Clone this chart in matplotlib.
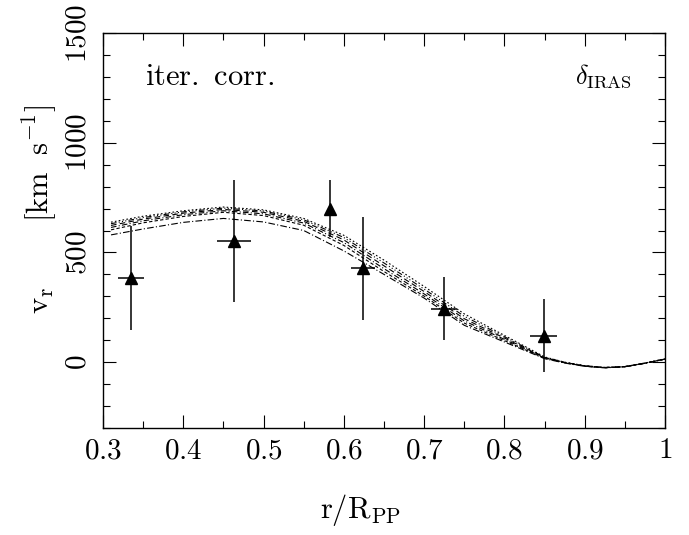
import matplotlib

matplotlib.use("Agg")
import matplotlib.pyplot as plt
from matplotlib.ticker import FuncFormatter, MultipleLocator

plt.rcParams["mathtext.fontset"] = "cm"
plt.rcParams["font.family"] = "serif"

# measured points (triangles)
obs_r = [0.335, 0.463, 0.583, 0.624, 0.725, 0.849]
obs_v = [383, 552, 700, 427, 244, 121]
obs_verr = [236, 278, 130, 233, 143, 165]
obs_rerr = [0.016, 0.021, 0.0, 0.015, 0.016, 0.017]

# model curves
model_r = [0.31, 0.35, 0.40, 0.45, 0.50, 0.55, 0.60, 0.65, 0.70, 0.75, 0.80,
           0.85, 0.875, 0.90, 0.925, 0.95, 0.975, 1.00]
model_v1 = [638, 665, 690, 707, 694, 655, 578, 465, 345, 220, 122, 24, 0, -16, -24, -20, -4, 15]
model_v2 = [631, 659, 685, 702, 689, 649, 568, 452, 333, 209, 116, 22, -1, -17, -24, -20, -4, 15]
model_v3 = [623, 652, 679, 696, 683, 642, 557, 439, 322, 198, 110, 21, -1, -17, -25, -20, -5, 14]
model_v4 = [614, 644, 672, 690, 676, 634, 545, 426, 311, 188, 104, 19, -2, -18, -25, -21, -5, 14]
model_v5 = [603, 635, 664, 683, 668, 624, 532, 413, 301, 178, 98, 18, -3, -18, -25, -21, -5, 14]
model_v6 = [580, 607, 637, 655, 639, 600, 507, 400, 292, 168, 92, 16, -4, -19, -26, -21, -5, 14]

x_ticks = [0.3, 0.4, 0.5, 0.6, 0.7, 0.8, 0.9, 1.0]
y_ticks = [0, 500, 1000, 1500]

styles = [
    (0, (1.5, 2)),
    (0, (5, 2, 1, 2, 1, 2, 1, 2)),
    (0, (5, 3)),
    (0, (5, 2, 1, 2)),
    (0, (3, 2)),
    (0, (6, 2, 1, 2)),
]

fig = plt.figure(figsize=(6.89, 5.35), dpi=100)
ax = fig.add_axes([103 / 689, 1 - 428 / 535, 562 / 689, 395 / 535])

curves = [model_v1, model_v2, model_v3, model_v4, model_v5, model_v6]
for vals, ls in zip(curves, styles):
    ax.plot(model_r, vals, color="black", lw=0.8, ls=ls)

ax.errorbar(obs_r, obs_v, yerr=obs_verr, xerr=obs_rerr, fmt="^", color="black",
            ms=9, elinewidth=1.1, capsize=0)

ax.set_xlim(0.3, 1.0)
ax.set_ylim(-300, 1500)
ax.set_xticks(x_ticks)
ax.set_yticks(y_ticks)
ax.xaxis.set_minor_locator(MultipleLocator(0.05))
ax.yaxis.set_minor_locator(MultipleLocator(100))


def fmt_x(v, pos):
    s = "1" if abs(v - 1) < 1e-9 else f"{v:.1f}"
    return r"$\mathrm{" + s + "}$"


def fmt_y(v, pos):
    return r"$\mathrm{" + f"{int(round(v))}" + "}$"


ax.xaxis.set_major_formatter(FuncFormatter(fmt_x))
ax.yaxis.set_major_formatter(FuncFormatter(fmt_y))
ax.tick_params(which="both", direction="in", top=True, right=True, width=0.8)
ax.tick_params(which="major", length=9.5, labelsize=21)
ax.tick_params(which="minor", length=5)
ax.tick_params(axis="x", which="major", pad=6)
ax.tick_params(axis="y", which="major", pad=8)
for lab in ax.get_yticklabels():
    lab.set_rotation(90)
    lab.set_va("center")
for sp in ax.spines.values():
    sp.set_linewidth(1.0)

ax.text(0.075, 0.89, r"$\mathrm{iter.\ corr.}$", transform=ax.transAxes, fontsize=22,
        ha="left", va="center")
ax.text(0.84, 0.89, r"$\delta_{\mathrm{IRAS}}$", transform=ax.transAxes, fontsize=19,
        ha="left", va="center")

fig.text(360 / 689, 1 - 510 / 535, r"$\mathrm{r/R_{PP}}$", fontsize=22, ha="center", va="center")
fig.text(40 / 689, 1 - 300 / 535, r"$\mathrm{v_r}$", fontsize=22,
         rotation=90, ha="center", va="center")
fig.text(40 / 689, 1 - 163 / 535, r"$\mathrm{[km\ \ s^{-1}]}$", fontsize=22,
         rotation=90, ha="center", va="center")

fig.savefig("out.png", dpi=100, facecolor="white")
